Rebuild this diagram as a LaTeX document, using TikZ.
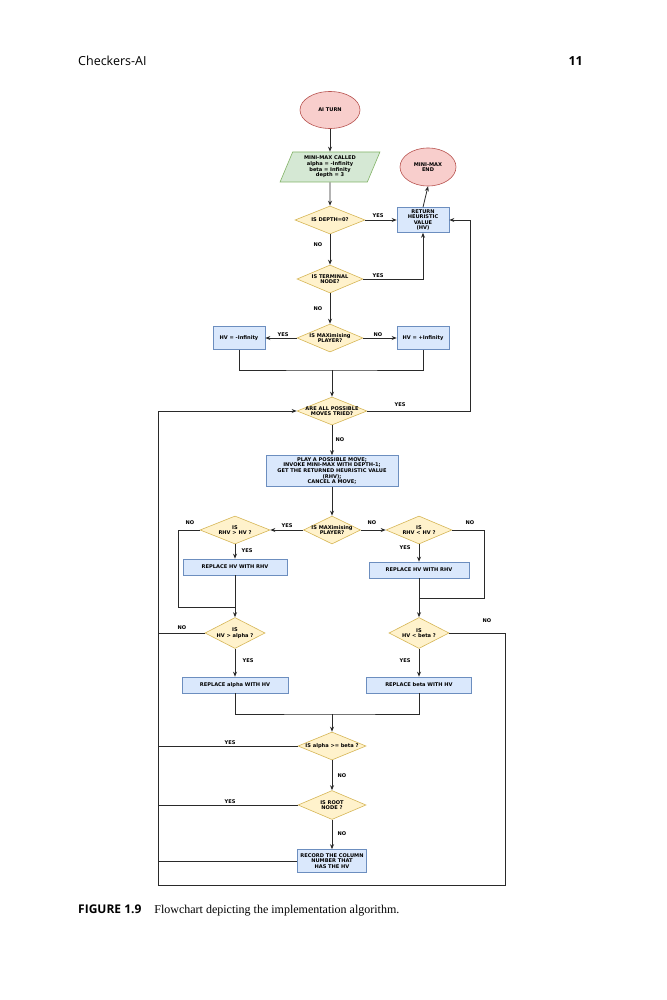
\documentclass[tikz,border=0pt]{standalone}
\usepackage{fontspec}
\setmainfont{Liberation Serif}
\newfontfamily\hdfont{Open Sans}
\newfontfamily\dgfont{DejaVu Sans}
\usetikzlibrary{shapes.geometric,arrows.meta}
\definecolor{redF}{HTML}{F8CECC}
\definecolor{redD}{HTML}{B85450}
\definecolor{grnF}{HTML}{D5E8D4}
\definecolor{grnD}{HTML}{82B366}
\definecolor{bluF}{HTML}{DAE8FC}
\definecolor{bluD}{HTML}{6C8EBF}
\definecolor{yelF}{HTML}{FFF2CC}
\definecolor{yelD}{HTML}{D6B656}
\definecolor{lineC}{HTML}{2A2A2A}
\newcommand\dgtext{\dgfont\bfseries\fontsize{5.1}{5.6}\selectfont}
\tikzset{
  base/.style={line width=0.6pt, font=\dgtext, align=center, inner sep=0pt},
  term/.style={base, ellipse, fill=redF, draw=redD, minimum width=60pt, minimum height=37pt},
  io/.style={base, trapezium, trapezium left angle=68, trapezium right angle=112,
    trapezium stretches=true, fill=grnF, draw=grnD, minimum width=100pt, minimum height=30pt},
  proc/.style={base, rectangle, fill=bluF, draw=bluD},
  dec/.style={base, diamond, fill=yelF, draw=yelD},
  lbl/.style={font=\dgtext, align=center, inner sep=0pt, text=black},
  flow/.style={draw=lineC, line width=0.8pt},
  arr/.style={flow, -{Stealth[length=5pt,width=4pt]}},
}
\begin{document}
\begin{tikzpicture}[x=1pt,y=-1pt]
\useasboundingbox[fill=white] (0,0) rectangle (666,1000);

% header
\node[anchor=west, font=\hdfont\fontsize{12.5}{14}\selectfont, inner sep=0pt] (hdr) at (78,61) {Checkers-AI};
\node[anchor=east, font=\hdfont\bfseries\fontsize{12.5}{14}\selectfont, inner sep=0pt] (pgno) at (583,61) {11};

% nodes
\node[term] (aiturn) at (330,110) {AI TURN};
\node[io] (mmcall) at (330,167) {MINI-MAX CALLED\\alpha = -Infinity\\beta = Infinity\\depth = 3};
\node[term, minimum width=56pt, minimum height=38pt] (mmend) at (428,167) {MINI-MAX\\END};
\node[dec, minimum width=70pt, minimum height=28pt, label={[lbl]center:{IS DEPTH=0?}}] (d0) at (330,220) {};
\node[proc, minimum width=52pt, minimum height=25pt, font=\dgfont\bfseries\fontsize{5.1}{5.3}\selectfont] (ret) at (423,220) {RETURN\\HEURISTIC\\VALUE\\(HV)};
\node[dec, minimum width=66pt, minimum height=28pt, label={[lbl]center:{IS TERMINAL\\NODE?}}] (dterm) at (330,279) {};
\node[dec, minimum width=66pt, minimum height=28pt, label={[lbl]center:{IS MAXimising\\PLAYER?}}] (dmax1) at (330,338) {};
\node[proc, minimum width=52pt, minimum height=23pt] (hvneg) at (239,338) {HV = -Infinity};
\node[proc, minimum width=52pt, minimum height=23pt] (hvpos) at (423,338) {HV = +Infinity};
\coordinate (j1) at (332,370);
\node[dec, minimum width=70pt, minimum height=28pt, label={[lbl]center:{ARE ALL POSSIBLE\\MOVES TRIED?}}] (dall) at (332,411) {};
\node[proc, minimum width=132pt, minimum height=31pt] (play) at (332,471)
  {PLAY A POSSIBLE MOVE;\\INVOKE MINI-MAX WITH DEPTH-1;\\GET THE RETURNED HEURISTIC VALUE\\(RHV);\\CANCEL A MOVE;};
\node[dec, minimum width=57pt, minimum height=28pt, label={[lbl]center:{IS MAXimising\\PLAYER?}}] (dmax2) at (332,530) {};
\node[dec, minimum width=70pt, minimum height=28pt, label={[lbl]center:{IS\\RHV > HV ?}}] (dgt) at (235,530) {};
\node[dec, minimum width=66pt, minimum height=28pt, label={[lbl]center:{IS\\RHV < HV ?}}] (dlt) at (419,530) {};
\node[proc, minimum width=104pt, minimum height=16pt] (rep1) at (235,567) {REPLACE HV WITH RHV};
\node[proc, minimum width=100pt, minimum height=16pt] (rep2) at (419,570) {REPLACE HV WITH RHV};
\coordinate (j2) at (235,607);
\coordinate (j3) at (419,598);
\node[dec, minimum width=60pt, minimum height=31pt, label={[lbl]center:{IS\\HV > alpha ?}}] (dalpha) at (235,633) {};
\node[dec, minimum width=60pt, minimum height=31pt, label={[lbl]center:{IS\\HV < beta ?}}] (dbeta) at (419,633) {};
\node[proc, minimum width=106pt, minimum height=16pt] (repa) at (235,685) {REPLACE alpha WITH HV};
\node[proc, minimum width=105pt, minimum height=16pt] (repb) at (419,685) {REPLACE beta WITH HV};
\coordinate (j4) at (332,714);
\node[dec, minimum width=68pt, minimum height=28pt, label={[lbl]center:{IS alpha >= beta ?}}] (dab) at (332,746) {};
\node[dec, minimum width=68pt, minimum height=29pt, label={[lbl]center:{IS ROOT\\NODE ?}}] (droot) at (332,805) {};
\node[proc, minimum width=69pt, minimum height=23pt] (rec) at (332,861) {RECORD THE COLUMN\\NUMBER THAT\\HAS THE HV};

% loop coordinates
\coordinate (lt) at (158,411);
\coordinate (lb) at (158,885);
\coordinate (rb) at (505,885);
\coordinate (rt) at (470,220);

% connectors
\draw[arr] (aiturn) -- (mmcall);
\draw[arr] (mmcall) -- (d0);
\draw[arr] (d0.east) -- (ret.west);
\draw[arr] (ret.north) -- (mmend.south);
\draw[arr] (d0.south) -- (dterm.north);
\draw[arr] (dterm.east) -| (ret.south);
\draw[arr] (dterm.south) -- (dmax1.north);
\draw[arr] (dmax1.west) -- (hvneg.east);
\draw[arr] (dmax1.east) -- (hvpos.west);
\draw[flow] (hvneg.south) |- (j1) -| (hvpos.south);
\draw[arr] (j1) -- (dall.north);
\draw[arr] (dall.east) -| (rt) -- (ret.east);
\draw[arr] (dall.south) -- (play.north);
\draw[arr] (play.south) -- (dmax2.north);
\draw[arr] (dmax2.west) -- (dgt.east);
\draw[arr] (dmax2.east) -- (dlt.west);
\draw[flow] (dgt.west) -- (178,530) |- (j2);
\draw[arr] (dgt.south) -- (rep1.north);
\draw[flow] (rep1.south) -- (j2);
\draw[arr] (j2) -- (dalpha.north);
\draw[flow] (dlt.east) -- (484,530) |- (j3);
\draw[arr] (dlt.south) -- (rep2.north);
\draw[flow] (rep2.south) -- (j3);
\draw[arr] (j3) -- (dbeta.north);
\draw[flow] (dalpha.west) -- (dalpha.west -| lt);
\draw[arr] (dalpha.south) -- (repa.north);
\draw[flow] (dbeta.east) -- (dbeta.east -| rb) -- (rb) -- (lb);
\draw[arr] (dbeta.south) -- (repb.north);
\draw[flow] (repa.south) |- (j4) -| (repb.south);
\draw[arr] (j4) -- (dab.north);
\draw[flow] (dab.west) -- (dab.west -| lt);
\draw[arr] (dab.south) -- (droot.north);
\draw[flow] (droot.west) -- (droot.west -| lt);
\draw[arr] (droot.south) -- (rec.north);
\draw[flow] (rec.west) -- (rec.west -| lt);
\draw[arr] (lb) -- (lt) -- (dall.west);

% connector labels
\node[lbl] (l1) at (378,216) {YES};
\node[lbl] (l2) at (318,245) {NO};
\node[lbl] (l3) at (378,276) {YES};
\node[lbl] (l4) at (318,309) {NO};
\node[lbl] (l5) at (283,335) {YES};
\node[lbl] (l6) at (378,335) {NO};
\node[lbl] (l7) at (400,405) {YES};
\node[lbl] (l8) at (340,440) {NO};
\node[lbl] (l9) at (287,526) {YES};
\node[lbl] (l10) at (372,523) {NO};
\node[lbl] (l11) at (190,523) {NO};
\node[lbl] (l12) at (470,523) {NO};
\node[lbl] (l13) at (247,551) {YES};
\node[lbl] (l14) at (405,548) {YES};
\node[lbl] (l15) at (182,628) {NO};
\node[lbl] (l16) at (487,621) {NO};
\node[lbl] (l17) at (248,661) {YES};
\node[lbl] (l18) at (405,661) {YES};
\node[lbl] (l19) at (230,743) {YES};
\node[lbl] (l20) at (342,776) {NO};
\node[lbl] (l21) at (230,802) {YES};
\node[lbl] (l22) at (342,834) {NO};

% caption
\node[anchor=west, inner sep=0pt, font=\fontsize{12}{14}\selectfont] (cap) at (78,910)
  {{\hdfont\bfseries FIGURE 1.9}\hspace{13pt}Flowchart depicting the implementation algorithm.};
\end{tikzpicture}
\end{document}
